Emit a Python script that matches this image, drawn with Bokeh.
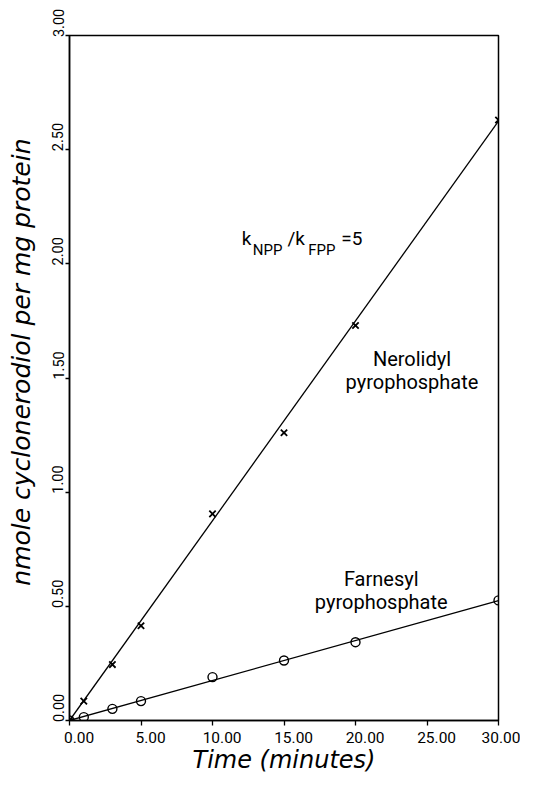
import math
from bokeh.plotting import figure
from bokeh.models import Range1d, FixedTicker
from bokeh.core.properties import value
from bokeh.embed import file_html
from bokeh.resources import INLINE

# ---- data ----
time_min = [0, 1, 3, 5, 10, 15, 20, 30]
nerolidyl = [0.0, 0.085, 0.245, 0.415, 0.905, 1.26, 1.73, 2.63]
farnesyl = [0.0, 0.015, 0.051, 0.085, 0.19, 0.263, 0.343, 0.526]

fit_time = [0, 30]
nerolidyl_fit = [0.0, 2.625]
farnesyl_fit = [0.0, 0.525]

x_ticks = [0, 5, 10, 15, 20, 25, 30]
x_tick_labels = ["0.00", "5.00", "10.00", "15.00", "20.00", "25.00", "30.00"]
y_ticks = [0.0, 0.5, 1.0, 1.5, 2.0, 2.5, 3.0]
y_tick_labels = ["0.00", "0.50", "1.00", "1.50", "2.00", "2.50", "3.00"]

NB = "\u00a0"  # non-breaking space used only to shift label anchoring

p = figure(width=520, height=777,
           x_range=Range1d(0, 30), y_range=Range1d(0, 3),
           output_backend="svg", toolbar_location=None,
           min_border_left=69, min_border_right=22,
           min_border_top=35, min_border_bottom=57)

p.background_fill_color = "white"
p.border_fill_color = "white"
p.outline_line_color = "black"
p.outline_line_width = 1.5
p.xgrid.visible = False
p.ygrid.visible = False

# fitted lines
p.line(fit_time, nerolidyl_fit, line_color="black", line_width=1.3)
p.line(fit_time, farnesyl_fit, line_color="black", line_width=1.3)

# data points
p.scatter(time_min, nerolidyl, marker="x", size=9, line_color="black", line_width=1.8)
p.scatter(time_min, farnesyl, marker="circle", size=9, fill_color=None,
          line_color="black", line_width=1.4)

# axes
xa = p.xaxis[0]
xa.ticker = FixedTicker(ticks=x_ticks, minor_ticks=[])
xa.major_label_overrides = {t: NB * 5 + l for t, l in zip(x_ticks, x_tick_labels)}
xa.axis_label = "Time (minutes)"
ya = p.yaxis[0]
ya.ticker = FixedTicker(ticks=y_ticks, minor_ticks=[])
ya.major_label_overrides = {t: NB * 7 + l for t, l in zip(y_ticks, y_tick_labels)}
ya.axis_label = NB * 4 + "nmole cyclonerodiol per mg protein"
ya.major_label_orientation = "vertical"

for ax in (xa, ya):
    ax.axis_line_color = "black"
    ax.axis_line_width = 1.5
    ax.major_tick_line_color = "black"
    ax.major_tick_line_width = 1.3
    ax.major_tick_in = 0
    ax.minor_tick_in = 0
    ax.minor_tick_out = 0
    ax.major_label_text_color = "black"
    ax.major_label_text_font = "Roboto"
    ax.axis_label_text_color = "black"
    ax.axis_label_text_font = "DejaVu Sans"
    ax.axis_label_text_font_style = "italic"

xa.major_tick_out = 5
xa.major_label_standoff = 3
xa.major_label_text_font_size = "15.5px"
xa.axis_label_text_font_size = "24px"
xa.axis_label_standoff = -4

ya.major_tick_out = 4
ya.major_label_standoff = -2
ya.major_label_text_font_size = "14.5px"
ya.axis_label_text_font_size = "25px"
ya.axis_label_standoff = 12

# annotations
ann_font = value("Roboto")
p.text(x=[23.95, 23.95], y=[1.584, 1.482], text=["Nerolidyl", "pyrophosphate"],
       text_font=ann_font, text_font_size=value("20px"), text_align="center",
       text_baseline="alphabetic", text_color="black")
p.text(x=[21.8, 21.8], y=[0.620, 0.518], text=["Farnesyl", "pyrophosphate"],
       text_font=ann_font, text_font_size=value("20px"), text_align="center",
       text_baseline="alphabetic", text_color="black")

ratio_x, ratio_y = 12.05, 2.109
ratio_parts = ["k", "NPP", "/k", "FPP", "=5"]
ratio_dx = [0, 11.0, 45.7, 66.5, 99.5]
ratio_dy = [0, 10.6, 0, 10.6, 0]
ratio_size = ["19px", "15px", "19px", "15px", "19px"]
for t, dx, dy, fs in zip(ratio_parts, ratio_dx, ratio_dy, ratio_size):
    p.text(x=[ratio_x], y=[ratio_y], text=[t], x_offset=dx, y_offset=dy,
           text_font=ann_font, text_font_size=value(fs), text_align="left",
           text_baseline="alphabetic", text_color="black")

open("out.html", "w").write(file_html(p, INLINE))
